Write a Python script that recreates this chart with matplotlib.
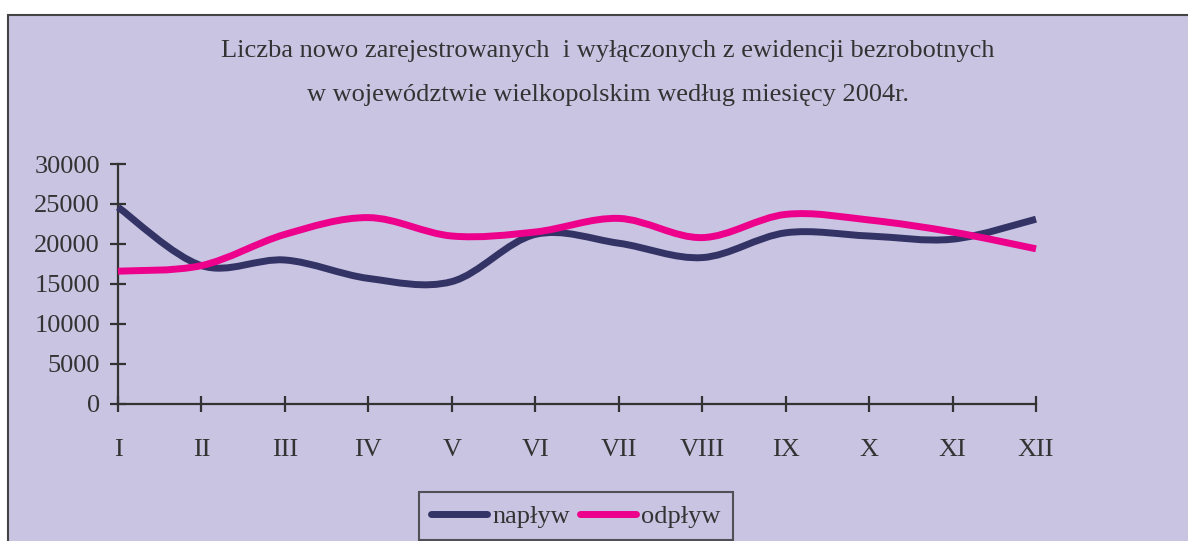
import matplotlib
matplotlib.use("Agg")
import matplotlib.pyplot as plt
from matplotlib.path import Path
from matplotlib.patches import PathPatch, Rectangle
from matplotlib.lines import Line2D
import numpy as np

months = ["I", "II", "III", "IV", "V", "VI", "VII", "VIII", "IX", "X", "XI", "XII"]
naplyw = [24600, 17300, 18000, 15700, 15300, 21200, 20100, 18300, 21400, 21000, 20600, 23100]
odplyw = [16600, 17300, 21200, 23300, 21000, 21500, 23200, 20800, 23700, 23000, 21500, 19400]
yticks = [0, 5000, 10000, 15000, 20000, 25000, 30000]
title = ("Liczba nowo zarejestrowanych  i wyłączonych z ewidencji bezrobotnych\n"
         "w województwie wielkopolskim według miesięcy 2004r.")

BG = "#C8C4E2"
NAVY = "#333366"
MAG = "#EC008C"
TXT = "#333333"

plt.rcParams['font.family'] = ['Liberation Serif', 'DejaVu Serif']

W, H = 1188, 541
fig = plt.figure(figsize=(W / 100, H / 100), dpi=100)
fig.patch.set_facecolor("white")

# outer frame
fig.patches.append(Rectangle((8 / W, -0.1), 1.2, 1 - 15 / H + 0.1, transform=fig.transFigure,
                             facecolor=BG, edgecolor="#444444", linewidth=1.5, zorder=-5))

ax = fig.add_axes([118 / W, 1 - 404 / H, (1036 - 118) / W, (404 - 164) / H])
ax.set_facecolor("none")
ax.set_zorder(2)


def smooth_path(xs, ys):
    xs = np.asarray(xs, float)
    ys = np.asarray(ys, float)
    n = len(xs)
    verts = [(xs[0], ys[0])]
    codes = [Path.MOVETO]
    for i in range(n - 1):
        p0 = i - 1 if i > 0 else i
        p3 = i + 2 if i + 2 < n else i + 1
        c1 = (xs[i] + (xs[i + 1] - xs[p0]) / 6, ys[i] + (ys[i + 1] - ys[p0]) / 6)
        c2 = (xs[i + 1] - (xs[p3] - xs[i]) / 6, ys[i + 1] - (ys[p3] - ys[i]) / 6)
        verts += [c1, c2, (xs[i + 1], ys[i + 1])]
        codes += [Path.CURVE4] * 3
    return Path(verts, codes)


x = np.arange(len(months))
for data, col in [(naplyw, NAVY), (odplyw, MAG)]:
    ax.add_patch(PathPatch(smooth_path(x, data), facecolor="none", edgecolor=col,
                           linewidth=5, capstyle="butt", joinstyle="round", zorder=3,
                           clip_on=False))

ax.set_xlim(0, len(months) - 1)
ax.set_ylim(0, 30000)
ax.set_xticks(x)
ax.set_xticklabels(months)
ax.set_yticks(yticks)
ax.set_yticklabels([str(v) for v in yticks])
for s in ["top", "right"]:
    ax.spines[s].set_visible(False)
for s in ["left", "bottom"]:
    ax.spines[s].set_color(TXT)
    ax.spines[s].set_linewidth(1.6)
ax.tick_params(axis="both", direction="inout", length=12, width=1.6, color=TXT,
               labelsize=19, labelcolor=TXT)
ax.tick_params(axis="x", pad=19)
ax.tick_params(axis="y", pad=7)

fig.text(608 / W, 1 - 73 / H, title, ha="center", va="center", fontsize=19,
         color=TXT, linespacing=2.25)

handles = [Line2D([], [], color=NAVY, linewidth=5, solid_capstyle="round"),
           Line2D([], [], color=MAG, linewidth=5, solid_capstyle="round")]
leg = fig.legend(handles, ["napływ", "odpływ"], loc="center",
                 bbox_to_anchor=(576 / W, 1 - 516 / H), ncol=2, frameon=True,
                 fancybox=False, edgecolor=TXT, facecolor="none", fontsize=19,
                 handlelength=2.1, handletextpad=0.22, columnspacing=0.38,
                 borderpad=0.45, borderaxespad=0)
leg.get_frame().set_linewidth(1.5)
for t in leg.get_texts():
    t.set_color(TXT)

fig.savefig("out.png", dpi=100, facecolor=fig.get_facecolor())
